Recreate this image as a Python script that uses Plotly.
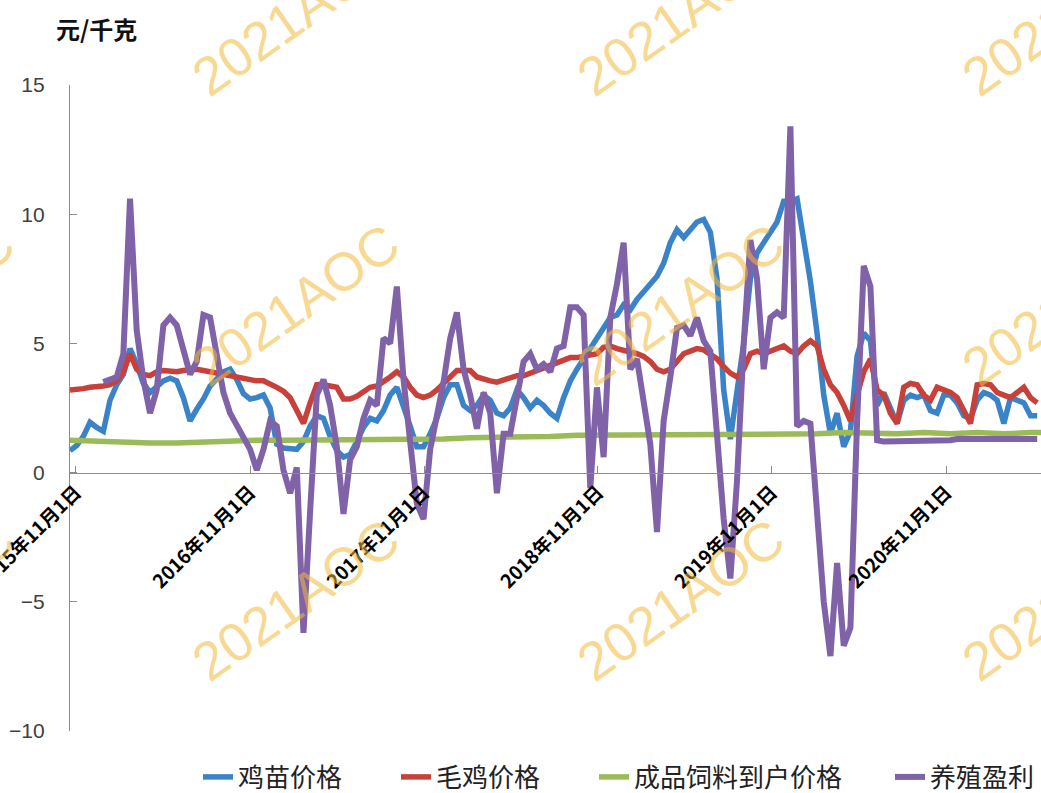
import pandas as pd
import plotly.graph_objects as go

# ---------------- data ----------------
start_date = "2015-10-20"

series_names = ["鸡苗价格", "毛鸡价格", "成品饲料到户价格", "养殖盈利"]
series_colors = ["#3B83C8", "#C8403A", "#9BBB59", "#7F62A8"]

tick_dates = ["2015-11-01", "2016-11-01", "2017-11-01", "2018-11-01", "2019-11-01", "2020-11-01"]
tick_labels = ["2015年11月1日", "2016年11月1日", "2017年11月1日", "2018年11月1日", "2019年11月1日", "2020年11月1日"]

chick_price = [
    0.85, 1.05, 1.4, 1.95, 1.75, 1.6, 2.8, 3.4, 3.8, 4.8,
    4.2, 3.45, 3.1, 3.3, 3.55, 3.65, 3.55, 2.9, 2.0, 2.45,
    2.85, 3.35, 3.6, 3.9, 4.0, 3.6, 3.05, 2.85, 2.9, 3.0,
    2.5, 1.1, 0.95, 0.9, 0.9, 1.2, 1.8, 2.2, 2.1, 1.4,
    0.85, 0.6, 0.7, 1.2, 1.75, 2.1, 2.0, 2.4, 3.0, 3.3,
    2.6, 1.8, 1.0, 1.0, 1.5, 2.1, 2.9, 3.4, 3.4, 2.6,
    2.4, 2.6, 3.0, 2.8, 2.3, 2.2, 2.5, 3.2, 2.9, 2.5,
    2.8, 2.6, 2.3, 2.1, 2.9, 3.55, 4.0, 4.4, 4.75, 5.2,
    5.6, 6.0, 6.1, 6.5, 6.3, 6.7, 7.0, 7.3, 7.6, 8.1,
    8.9, 9.4, 9.1, 9.4, 9.7, 9.8, 9.3, 7.5, 3.2, 1.3,
    3.0, 5.0, 7.5, 8.5, 8.9, 9.3, 9.7, 10.5, 10.5, 10.6,
    9.0, 7.4, 5.4, 3.0, 1.5, 2.3, 1.0, 1.6, 4.5, 5.4,
    5.1, 2.6, 3.1, 2.5, 1.9, 2.8, 3.0, 2.9, 3.0, 2.4,
    2.3, 3.0, 3.0, 2.7, 2.2, 2.1, 2.8, 3.1, 3.0, 2.8,
    1.9, 2.9, 2.8, 2.7, 2.2, 2.2,
]

broiler_price = [
    3.2, 3.2, 3.25, 3.3, 3.3, 3.35, 3.4, 3.55, 3.9, 4.6,
    4.0, 3.8, 3.75, 3.9, 3.95, 3.9, 3.9, 3.95, 4.0, 4.0,
    3.95, 3.9, 3.85, 3.8, 3.75, 3.7, 3.65, 3.55, 3.55, 3.55,
    3.45, 3.3, 3.15, 2.9, 2.4, 1.9, 2.7, 3.4, 3.4, 3.35,
    3.3, 2.85, 2.85, 2.95, 3.1, 3.3, 3.35, 3.5, 3.7, 3.9,
    3.7, 3.3, 3.0, 2.9, 3.0, 3.2, 3.45, 3.75, 3.95, 3.95,
    3.95, 3.7, 3.6, 3.55, 3.5, 3.6, 3.7, 3.75, 3.75, 3.85,
    3.9, 4.0, 4.1, 4.2, 4.35, 4.45, 4.45, 4.5, 4.5, 4.6,
    4.85, 4.9, 4.8, 4.75, 4.7, 4.6, 4.5, 4.3, 4.0, 3.9,
    4.0, 4.3, 4.6, 4.7, 4.8, 4.75, 4.6, 4.4, 4.1, 3.85,
    3.7, 4.0, 4.6, 4.7, 4.6, 4.7, 4.8, 4.9, 4.7, 4.6,
    4.9, 5.1, 4.9, 4.0, 3.4, 3.1, 2.6, 2.0, 3.0, 3.9,
    4.4, 3.2, 3.0, 2.3, 1.9, 3.3, 3.45, 3.4, 3.0, 2.8,
    3.3, 3.2, 3.1, 2.9, 2.4, 1.9, 3.4, 3.45, 3.4, 3.1,
    3.0, 2.9, 3.1, 3.3, 2.9, 2.7,
]

profit = [
    None, None, None, None, None, 3.5, 3.6, 3.7, 4.6, 10.6,
    5.5, 3.6, 2.3, 3.2, 5.7, 6.0, 5.7, 4.7, 3.8, 4.3,
    6.1, 6.0, 4.5, 3.1, 2.3, 1.8, 1.3, 0.9, 0.1, 0.9,
    2.0, 1.8, 0.1, -0.8, 0.2, -6.2, -1.5, 3.0, 3.6, 2.6,
    1.0, -1.6, 0.5, 1.0, 2.1, 2.8, 2.6, 5.2, 5.0, 7.2,
    3.6, 0.9, -1.2, -1.8, 0.9, 2.2, 3.5, 5.2, 6.2, 4.0,
    3.0, 1.7, 3.1, 2.3, -0.8, 1.5, 1.5, 2.9, 4.3, 4.6,
    4.0, 4.2, 3.9, 4.8, 4.9, 6.4, 6.4, 6.1, -0.6, 3.3,
    0.6, 6.0, 7.3, 8.9, 4.0, 4.4, 2.6, 1.1, -2.3, 2.0,
    3.7, 5.6, 5.7, 5.3, 6.0, 5.1, 4.7, 1.5, -1.8, -4.1,
    -0.3, 5.0, 9.0, 7.5, 4.0, 6.0, 6.2, 6.0, 13.4, 1.8,
    2.0, 1.9, -1.8, -5.0, -7.1, -3.5, -6.7, -6.0, 2.0, 8.0,
    7.2, 1.25, 1.2, 1.2, 1.2, 1.2, 1.2, 1.2, 1.2, 1.2,
    1.25, 1.25, 1.25, 1.3, 1.3, 1.3, 1.3, 1.3, 1.3, 1.3,
    1.3, 1.3, 1.3, 1.3, 1.3, 1.3,
]

feed_price = [
    1.25, 1.2, 1.15, 1.15, 1.15, 1.2, 1.25, 1.25, 1.25, 1.25,
    1.25, 1.25, 1.25, 1.25, 1.3, 1.35, 1.35, 1.4, 1.4, 1.45,
    1.45, 1.5, 1.5, 1.5, 1.45, 1.45, 1.5, 1.5, 1.5, 1.55,
    1.5, 1.5, 1.55, 1.5, 1.55, 1.5, 1.55, 1.55,
]

dates_2w = pd.date_range(start_date, periods=len(chick_price), freq="14D")
dates_8w = pd.date_range(start_date, periods=len(feed_price), freq="56D")

# ---------------- figure ----------------
W, H = 1041, 793
ML, MR, MT, MB = 70, 0, 85, 62
PW, PH = W - ML - MR, H - MT - MB


def px_x(px):
    return (px - ML) / PW


def px_y(py):
    return (H - MB - py) / PH


CJK = "Noto Sans CJK SC"
fig = go.Figure()

series = [
    (dates_2w, chick_price),
    (dates_2w, broiler_price),
    (dates_8w, feed_price),
    (dates_2w, profit),
]
legend_ids = ["legend", "legend2", "legend3", "legend4"]
widths = [5.5, 5.5, 5.5, 6]
for (xs, ys), name, color, lid, w in zip(series, series_names, series_colors, legend_ids, widths):
    fig.add_trace(go.Scatter(
        x=xs, y=ys, mode="lines", name=name,
        line=dict(color=color, width=w),
        connectgaps=False, legend=lid,
    ))

legend_text_starts = [243, 441, 639, 935]
leg_common = dict(orientation="h", yanchor="middle", xanchor="left",
                  bgcolor="rgba(0,0,0,0)",
                  font=dict(family=CJK, size=26, color="#222222"))
for lid, tx in zip(legend_ids, legend_text_starts):
    fig.update_layout(**{lid: dict(x=px_x(tx - 45), y=px_y(777), **leg_common)})

# watermarks
annotations = []
for cx in [-90, 295, 680, 1065]:
    for cy in [15, 305, 600]:
        annotations.append(dict(
            text="2021AOC", xref="paper", yref="paper",
            x=px_x(cx), y=px_y(cy), xanchor="center", yanchor="middle",
            showarrow=False, textangle=-35,
            font=dict(family="Liberation Sans", size=54, color="rgba(243,185,60,0.55)"),
        ))
annotations.append(dict(
    text="元/千克", xref="paper", yref="paper",
    x=px_x(54), y=px_y(28), xanchor="left", yanchor="middle", showarrow=False,
    font=dict(family=CJK, size=24, color="#111111", weight="bold"),
))

fig.update_layout(
    template="none",
    width=W, height=H,
    margin=dict(l=ML, r=MR, t=MT, b=MB, autoexpand=False),
    paper_bgcolor="white", plot_bgcolor="white",
    showlegend=True,
    annotations=annotations,
    xaxis=dict(
        type="date",
        range=["2015-10-20", "2021-05-19"],
        anchor="free", position=0.4,
        showline=True, linecolor="#8C8C8C", linewidth=1.2,
        ticks="inside", ticklen=7, tickcolor="#8C8C8C",
        tickvals=tick_dates, ticktext=tick_labels,
        tickangle=-45, ticklabeloverflow="allow",
        tickfont=dict(family=CJK, size=19, color="#000000", weight="bold"),
        showgrid=False, zeroline=False, automargin=False,
    ),
    yaxis=dict(
        range=[-10, 15], dtick=5, tick0=0,
        showline=True, linecolor="#8C8C8C", linewidth=1.2,
        ticks="inside", ticklen=7, tickcolor="#8C8C8C",
        ticklabelstandoff=20,
        tickfont=dict(family="Liberation Sans", size=21, color="#404040"),
        showgrid=False, zeroline=False, automargin=False,
    ),
)

fig.write_html(
    "out.html",
    config={"displayModeBar": False},
    post_script="document.body.style.margin='0';document.body.style.padding='0';",
)
